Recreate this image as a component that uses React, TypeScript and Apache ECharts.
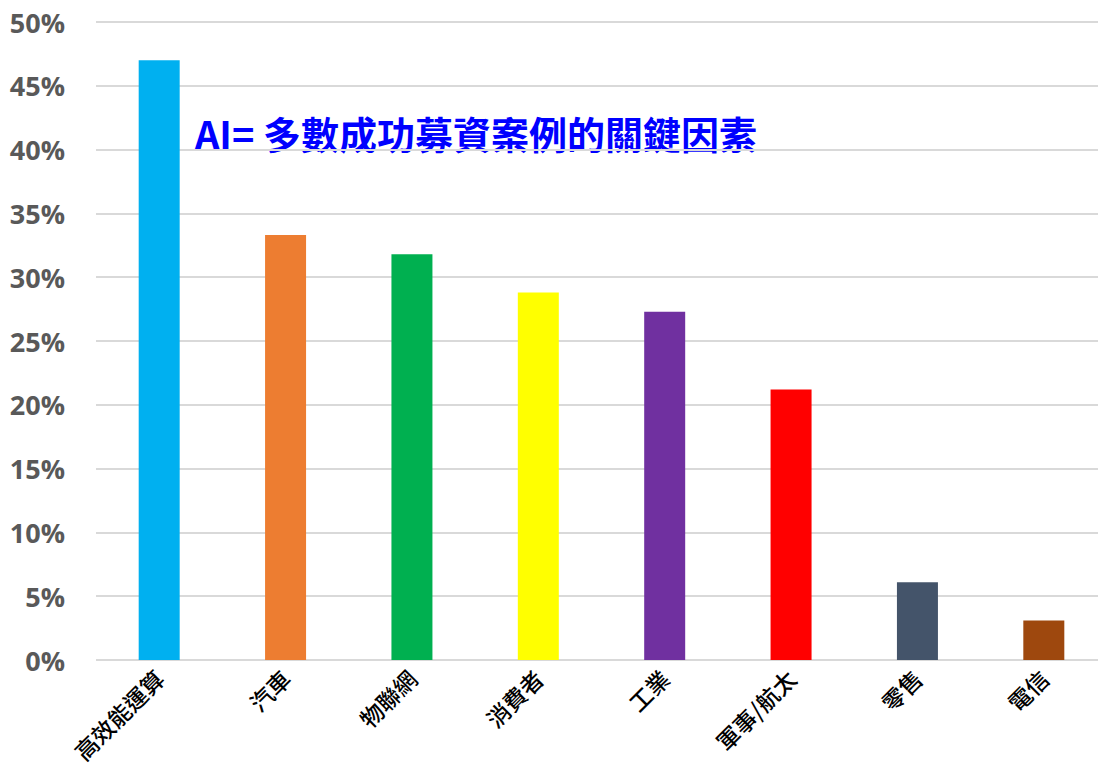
import React, { useEffect, useRef } from "react";
import * as echarts from "echarts";

const categories = ["高效能運算", "汽車", "物聯網", "消費者", "工業", "軍事/航太", "零售", "電信"];
const values = [0.47, 0.333, 0.318, 0.288, 0.273, 0.212, 0.061, 0.031];
const barColors = ["#00B0F0", "#ED7D31", "#00B050", "#FFFF00", "#7030A0", "#FF0000", "#44546A", "#9E480E"];
const titleText = "AI= 多數成功募資案例的關鍵因素";

export default function App() {
  const ref = useRef<HTMLDivElement>(null);
  useEffect(() => {
    document.body.style.margin = "0";
    document.body.style.overflow = "hidden";
    const chart = echarts.init(ref.current!, null, { renderer: "svg" });
    chart.setOption({
      animation: false,
      backgroundColor: "#ffffff",
      grid: { left: 96, right: 3, top: 22, bottom: 111, containLabel: false, outerBoundsMode: "none" },
      graphic: [
        {
          type: "text",
          left: 195,
          top: 113,
          style: {
            text: titleText,
            fill: "#0000FF",
            font: "bold 38px 'Noto Sans CJK TC', sans-serif",
          },
        },
      ],
      xAxis: {
        type: "category",
        data: categories,
        axisLine: { show: false },
        axisTick: { show: false },
        axisLabel: {
          rotate: 45,
          margin: 14,
          interval: 0,
          color: "#000000",
          fontSize: 23,
          fontWeight: 500,
          fontFamily: "'Noto Sans CJK TC', sans-serif",
        },
      },
      yAxis: {
        type: "value",
        min: 0,
        max: 0.5,
        interval: 0.05,
        axisLine: { show: false },
        axisTick: { show: false },
        splitLine: { lineStyle: { color: "#d9d9d9", width: 2 } },
        axisLabel: {
          margin: 31,
          color: "#595959",
          fontSize: 27,
          fontWeight: "bold",
          fontFamily: "'Open Sans', sans-serif",
          formatter: (v: number) => `${Math.round(v * 100)}%`,
        },
      },
      series: [
        {
          type: "bar",
          barWidth: 41,
          data: values.map((v, i) => ({ value: v, itemStyle: { color: barColors[i] } })),
        },
      ],
    });
    return () => chart.dispose();
  }, []);
  return <div ref={ref} style={{ width: 1110, height: 771 }} />;
}
